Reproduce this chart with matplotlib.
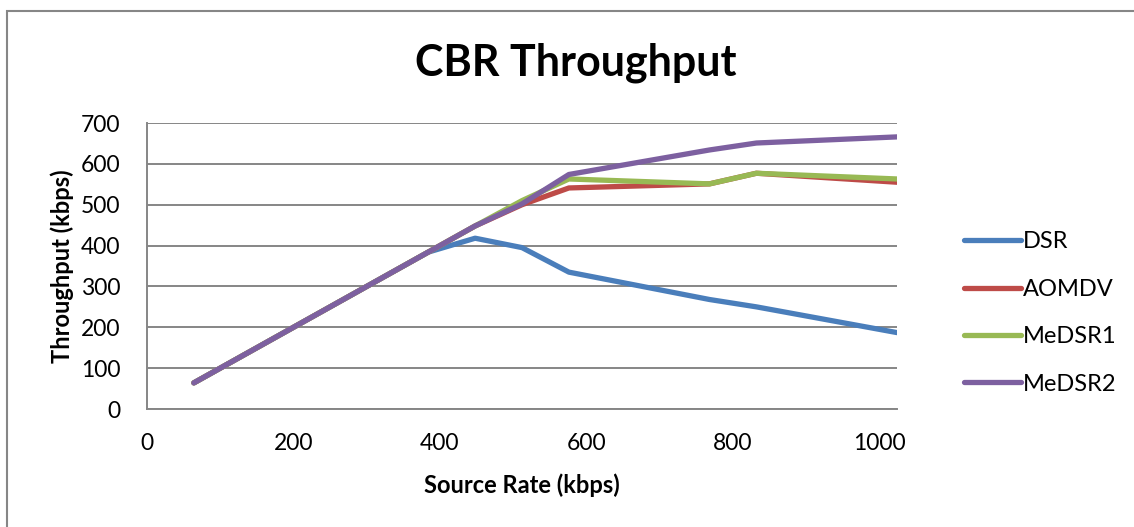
import matplotlib
matplotlib.use("Agg")
import matplotlib.pyplot as plt
from matplotlib.patches import Rectangle

plt.rcParams['font.family'] = ['Lato', 'DejaVu Sans']

# source rate (kbps) and measured throughput (kbps) per protocol
source_rate = [64, 384, 448, 512, 576, 768, 832, 1024]
dsr = [64, 384, 418, 395, 335, 268, 250, 187]
aomdv = [64, 384, 448, 500, 541, 551, 577, 555]
medsr1 = [64, 384, 448, 510, 563, 551, 577, 563]
medsr2 = [64, 384, 448, 502, 574, 634, 651, 666]

series = [
    ("DSR", dsr, "#4a7ebb"),
    ("AOMDV", aomdv, "#be4b48"),
    ("MeDSR1", medsr1, "#98b954"),
    ("MeDSR2", medsr2, "#7d60a0"),
]

W, H = 1134, 527
fig = plt.figure(figsize=(W / 100, H / 100), dpi=100)

# chart border
fig.patches.append(Rectangle((7 / W, -0.05), 1.1, (H - 11) / H + 0.05,
                             transform=fig.transFigure, fill=False,
                             edgecolor="#868686", linewidth=1.5))

ax = fig.add_axes([147 / W, (H - 409) / H, (897 - 147) / W, (409 - 123) / H])

for name, vals, color in series:
    ax.plot(source_rate, vals, color=color, linewidth=3.8, label=name,
            solid_capstyle="round", solid_joinstyle="round")

ax.set_xlim(0, 1024)
ax.set_ylim(0, 700)
ax.set_xticks(range(0, 1001, 200))
ax.set_yticks(range(0, 701, 100))
ax.yaxis.grid(True, color="#868686", linewidth=1.4)
ax.set_axisbelow(True)
for side in ["top", "right"]:
    ax.spines[side].set_visible(False)
for side in ["left", "bottom"]:
    ax.spines[side].set_color("#868686")
    ax.spines[side].set_linewidth(1.4)
ax.tick_params(length=0, labelsize=16.5, pad=17)
ax.tick_params(axis="y", pad=19)

ax.set_xlabel("Source Rate (kbps)", fontsize=17, fontweight="bold", labelpad=14)
ax.set_ylabel("Throughput (kbps)", fontsize=17, fontweight="bold", labelpad=5)

fig.text(576 / W, 1 - 63 / H, "CBR Throughput", ha="center", va="center",
         fontsize=31, fontweight="bold")

leg = ax.legend(loc="center left", bbox_to_anchor=(943 / W, 1 - 313 / H),
                bbox_transform=fig.transFigure, frameon=False, fontsize=17,
                handlelength=2.4, handletextpad=0.1, labelspacing=1.12)

fig.savefig("out.png", dpi=100)
